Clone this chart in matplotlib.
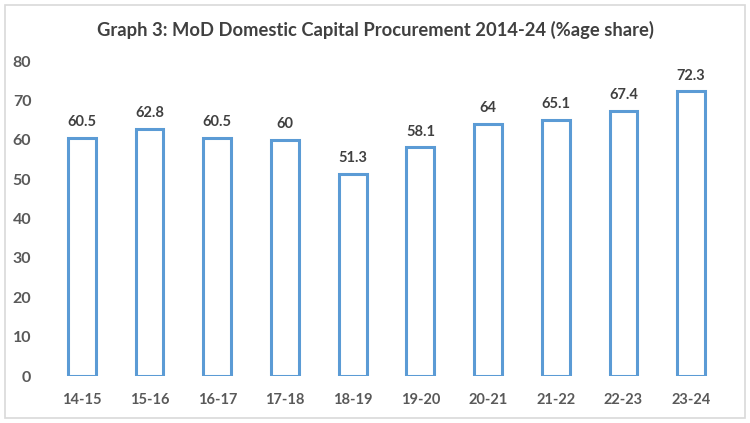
import matplotlib
matplotlib.use("Agg")
import matplotlib.pyplot as plt
from matplotlib.patches import Rectangle

categories = ["14-15", "15-16", "16-17", "17-18", "18-19", "19-20", "20-21", "21-22", "22-23", "23-24"]
values = [60.5, 62.8, 60.5, 60, 51.3, 58.1, 64, 65.1, 67.4, 72.3]
labels = ["60.5", "62.8", "60.5", "60", "51.3", "58.1", "64", "65.1", "67.4", "72.3"]
yticks = [0, 10, 20, 30, 40, 50, 60, 70, 80]

plt.rcParams['font.family'] = ['Lato', 'DejaVu Sans']

W, H = 750, 423
fig = plt.figure(figsize=(W/100, H/100), dpi=100)
fig.patch.set_facecolor('white')
ax = fig.add_axes([48/W, 1-376/H, (725-48)/W, (376-61)/H])

x = list(range(len(categories)))
ax.bar(x, values, width=0.41, facecolor='white', edgecolor='#5B9BD5', linewidth=2.2)
for xi, v, l in zip(x, values, labels):
    ax.text(xi, v + 2.2, l, ha='center', va='bottom', fontsize=10.5, fontweight='bold', color='#404040')

ax.set_xlim(-0.5, len(categories) - 0.5)
ax.set_ylim(0, 80)
ax.set_yticks(yticks)
ax.set_yticklabels([str(t) for t in yticks], fontsize=11.5, fontweight='bold', color='#595959')
ax.set_xticks(x)
ax.set_xticklabels(categories, fontsize=10.5, fontweight='bold', color='#595959')
ax.tick_params(axis='both', length=0)
ax.tick_params(axis='x', pad=12)
ax.tick_params(axis='y', pad=12)
for s in ax.spines.values():
    s.set_visible(False)

fig.text(0.5, 1-30/H, "Graph 3: MoD Domestic Capital Procurement 2014-24 (%age share)",
         ha='center', va='center', fontsize=13.2, fontweight='bold', color='#404040')

fig.patches.append(Rectangle((5/W, 5/H), (745-5)/W, (418-5)/H, transform=fig.transFigure,
                             fill=False, edgecolor='#D9D9D9', linewidth=1.2))

fig.savefig("out.png", dpi=100, facecolor='white')
